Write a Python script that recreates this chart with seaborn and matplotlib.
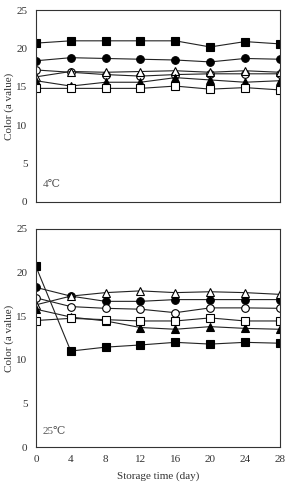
import matplotlib
matplotlib.use("Agg")
import matplotlib.pyplot as plt
import seaborn as sns
import pandas as pd

days = [0, 4, 8, 12, 16, 20, 24, 28]
series_names = ["filled_square", "filled_circle", "open_circle", "open_triangle", "filled_triangle", "open_square"]

# 4 ℃
t4_filled_square = [20.7, 21.0, 21.0, 21.0, 21.0, 20.2, 20.9, 20.6]
t4_filled_circle = [18.4, 18.8, 18.7, 18.6, 18.5, 18.25, 18.7, 18.6]
t4_open_circle = [17.2, 16.9, 16.6, 16.4, 16.6, 16.7, 16.7, 16.7]
t4_open_triangle = [16.3, 17.0, 16.9, 17.0, 17.1, 16.9, 17.1, 16.9]
t4_filled_triangle = [15.8, 15.1, 15.6, 15.6, 16.2, 15.9, 15.6, 15.8]
t4_open_square = [14.8, 14.8, 14.8, 14.8, 15.1, 14.7, 14.9, 14.6]

# 25 ℃
t25_filled_square = [20.7, 11.0, 11.45, 11.7, 12.0, 11.8, 12.0, 11.9]
t25_filled_circle = [18.3, 17.3, 16.7, 16.7, 16.9, 16.9, 16.9, 16.9]
t25_open_circle = [17.1, 16.1, 15.9, 15.8, 15.4, 15.95, 15.95, 15.9]
t25_open_triangle = [16.3, 17.3, 17.7, 17.9, 17.7, 17.8, 17.7, 17.5]
t25_filled_triangle = [15.8, 14.9, 14.45, 13.7, 13.5, 13.8, 13.6, 13.5]
t25_open_square = [14.5, 14.75, 14.6, 14.45, 14.45, 14.8, 14.45, 14.45]

panel_labels = ["4\u2103", "25\u2103"]
y_ticks = [0, 5, 10, 15, 20, 25]
ylabel = "Color (a value)"
xlabel = "Storage time (day)"

styles = {
    "filled_square": ("s", "black"),
    "filled_circle": ("o", "black"),
    "open_circle": ("o", "white"),
    "open_triangle": ("^", "white"),
    "filled_triangle": ("^", "black"),
    "open_square": ("s", "white"),
}

panels = [
    [t4_filled_square, t4_filled_circle, t4_open_circle, t4_open_triangle, t4_filled_triangle, t4_open_square],
    [t25_filled_square, t25_filled_circle, t25_open_circle, t25_open_triangle, t25_filled_triangle, t25_open_square],
]

sns.set_style("white")
plt.rcParams["font.family"] = ["Liberation Serif", "DejaVu Serif"]

fig = plt.figure(figsize=(2.85, 4.83), dpi=100)
ax_top = fig.add_axes([0.126, 0.582, 0.856, 0.397])
ax_bot = fig.add_axes([0.126, 0.0745, 0.856, 0.4515])

for ax, vals, plabel in zip([ax_top, ax_bot], panels, panel_labels):
    for name, v in zip(series_names, vals):
        df = pd.DataFrame({"day": days, "value": v})
        mk, fc = styles[name]
        sns.lineplot(data=df, x="day", y="value", ax=ax, color="#222222", linewidth=0.8,
                     marker=mk, markersize=5.5 if mk != "^" else 6,
                     markerfacecolor=fc, markeredgecolor="black", markeredgewidth=0.8)
    ax.set_xlim(0, 28)
    ax.set_ylim(0, 25)
    ax.set_yticks(y_ticks)
    ax.set_xticks(days)
    ax.tick_params(direction="in", length=2.5, width=0.6, labelsize=8, colors="#333333", pad=6)
    for s in ax.spines.values():
        s.set_linewidth(0.8)
        s.set_color("#333333")
    ax.set_ylabel(ylabel, fontsize=8, color="#333333", labelpad=2)
    ax.text(0.8, 2.0 if plabel.startswith("4") else 1.5, plabel, fontsize=8, color="#555555")

ax_top.set_xlabel("")
ax_top.tick_params(axis="x", bottom=False, labelbottom=False)
ax_bot.set_xlabel(xlabel, fontsize=8, color="#333333", labelpad=5)

fig.savefig("out.png", dpi=100)
